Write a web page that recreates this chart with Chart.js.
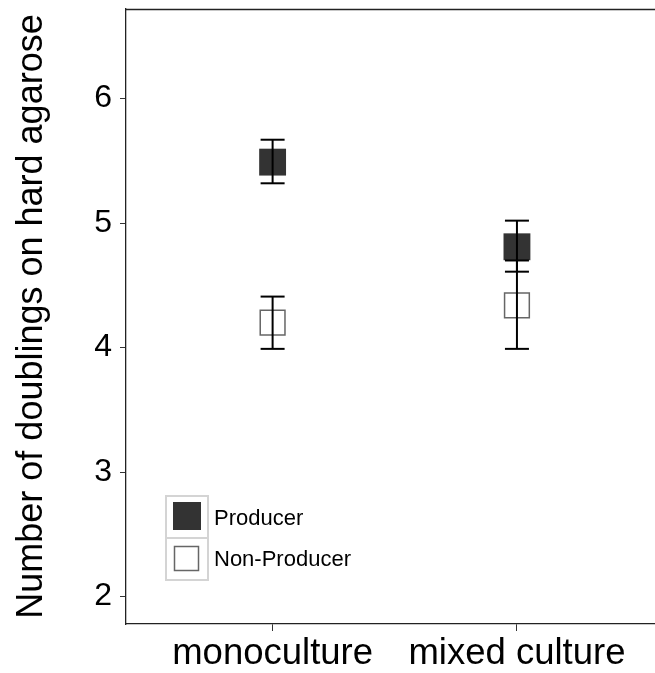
<!DOCTYPE html>
<html>
<head>
<meta charset="utf-8">
<script src="https://cdn.jsdelivr.net/npm/chart.js@4"></script>
<style>
  html, body { margin: 0; padding: 0; background: #fff; }
</style>
</head>
<body>
<canvas id="chart-1" width="655" height="673"></canvas>
<script>
// ---------------------------- data ----------------------------
const categories = ['monoculture', 'mixed culture'];
const groups = ['Producer', 'Non-Producer'];
const producerMean = [5.49, 4.81];
const producerLow = [5.32, 4.61];
const producerHigh = [5.67, 5.02];
const nonProducerMean = [4.20, 4.34];
const nonProducerLow = [3.99, 3.99];
const nonProducerHigh = [4.41, 4.70];
const yTicks = [2, 3, 4, 5, 6];

const FONT = "'Liberation Sans', Arial, sans-serif";

// one small line dataset per error bar (vertical line + caps)
function errorBars(low, high) {
  return categories.map((c, i) => ({
    type: 'line',
    data: [{ x: i + 1, y: low[i] }, { x: i + 1, y: high[i] }],
    showLine: true,
    borderColor: '#000',
    borderWidth: 2,
    pointStyle: 'line',
    pointRadius: 12,
    pointBorderColor: '#000',
    pointBorderWidth: 2,
    order: 0
  }));
}

const datasets = [
  ...errorBars(producerLow, producerHigh),
  ...errorBars(nonProducerLow, nonProducerHigh),
  {
    label: groups[0],
    data: producerMean.map((v, i) => ({ x: i + 1, y: v })),
    pointStyle: 'rect',
    pointRadius: 19,
    pointBackgroundColor: '#333333',
    pointBorderColor: '#333333',
    pointBorderWidth: 0,
    order: 1
  },
  {
    label: groups[1],
    data: nonProducerMean.map((v, i) => ({ x: i + 1, y: v })),
    pointStyle: 'rect',
    pointRadius: 17.5,
    pointBackgroundColor: '#ffffff',
    pointBorderColor: '#666666',
    pointBorderWidth: 1.5,
    order: 1
  }
];

// top line of the panel, and the little legend in the corner
const extras = {
  id: 'extras',
  afterDraw(chart) {
    const c = chart.ctx;
    const a = chart.chartArea;
    c.save();
    c.strokeStyle = '#222';
    c.lineWidth = 1.5;
    c.beginPath();
    c.moveTo(a.left, a.top + 0.5);
    c.lineTo(a.right, a.top + 0.5);
    c.stroke();

    // legend
    c.strokeStyle = '#d4d4d4';
    c.lineWidth = 2;
    c.strokeRect(166, 496, 42, 42);
    c.strokeRect(166, 538, 42, 42);
    c.fillStyle = '#333333';
    c.fillRect(173, 502, 28, 28);
    c.fillStyle = '#fff';
    c.fillRect(174.5, 546.5, 24, 24);
    c.strokeStyle = '#666';
    c.lineWidth = 1.5;
    c.strokeRect(174.5, 546.5, 24, 24);
    c.fillStyle = '#000';
    c.font = '22px ' + FONT;
    c.textBaseline = 'middle';
    c.fillText(groups[0], 214, 519);
    c.fillText(groups[1], 214, 560);
    c.restore();
  }
};

new Chart(document.getElementById('chart-1'), {
  type: 'scatter',
  data: { datasets: datasets },
  options: {
    responsive: false,
    animation: false,
    events: [],
    layout: { autoPadding: false, padding: { top: 9, right: 0, left: 0, bottom: 0 } },
    plugins: { legend: { display: false }, tooltip: { enabled: false } },
    scales: {
      x: {
        type: 'linear',
        min: 0.4,
        max: 2.565,
        afterBuildTicks: s => { s.ticks = categories.map((c, i) => ({ value: i + 1 })); },
        afterFit: s => { s.height = 49; s.paddingLeft = 0; s.paddingRight = 0; },
        ticks: {
          callback: v => categories[v - 1],
          color: '#000',
          font: { family: FONT, size: 36.5 },
          padding: 1,
          maxRotation: 0
        },
        grid: { drawOnChartArea: false, tickLength: 7, color: '#333' },
        border: { color: '#222', width: 1.3 }
      },
      y: {
        min: 1.78,
        max: 6.72,
        afterBuildTicks: s => { s.ticks = yTicks.map(v => ({ value: v })); },
        afterFit: s => { s.width = 126; s.paddingTop = 0; s.paddingBottom = 0; },
        ticks: {
          color: '#000',
          font: { family: FONT, size: 32 },
          padding: 8
        },
        grid: { drawOnChartArea: false, tickLength: 6, color: '#333' },
        border: { color: '#222', width: 1.3 },
        title: {
          display: true,
          text: 'Number of doublings on hard agarose',
          color: '#000',
          font: { family: FONT, size: 36 },
          padding: { top: 10, bottom: 0 }
        }
      }
    }
  },
  plugins: [extras]
});
</script>
</body>
</html>
